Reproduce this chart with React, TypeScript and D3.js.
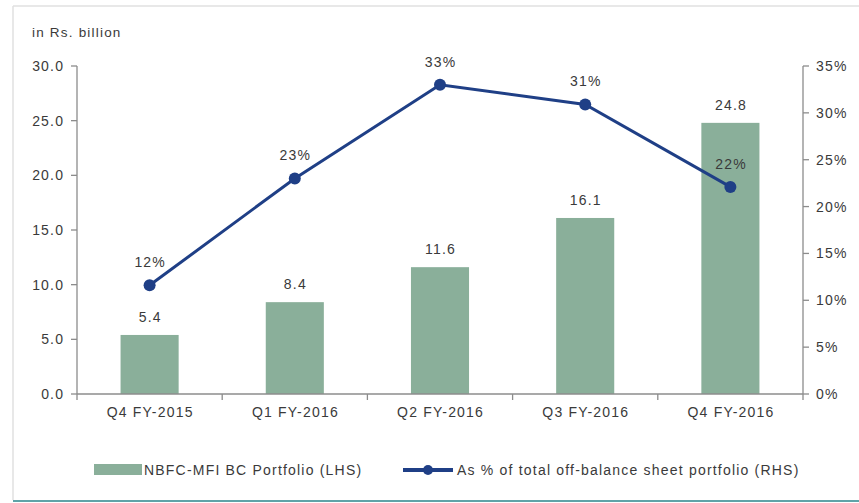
import React from "react";
import * as d3 from "d3";

const categories = ["Q4 FY-2015", "Q1 FY-2016", "Q2 FY-2016", "Q3 FY-2016", "Q4 FY-2016"];
const portfolio = [5.4, 8.4, 11.6, 16.1, 24.8];
const sharePct = [0.116, 0.23, 0.33, 0.309, 0.221];
const leftTicks = [0, 5, 10, 15, 20, 25, 30];
const rightTicks = [0, 0.05, 0.1, 0.15, 0.2, 0.25, 0.3, 0.35];

const W = 859;
const H = 503;
const left = 77;
const right = 803;
const top = 66;
const bottom = 394;
const BAR = "#8aaf9a";
const LINE = "#1f3f86";
const AXIS = "#8c8c8c";
const TEXT = "#3a3a3a";
const FONT = "'Liberation Sans', Arial, sans-serif";
const FS = 14;
const LS = 1.2;

export default function App() {
  const x = d3.scaleBand().domain(categories).range([left, right]).paddingInner(0.6).paddingOuter(0.3);
  const xb = d3.scaleBand().domain(categories).range([left, right]);
  const y = d3.scaleLinear().domain([0, 30]).range([bottom, top]);
  const y2 = d3.scaleLinear().domain([0, 0.35]).range([bottom, top]);
  const fmtL = d3.format(".1f");
  const fmtP = d3.format(".0%");
  const line = d3
    .line<number>()
    .x((_, i) => (xb(categories[i]) as number) + xb.bandwidth() / 2)
    .y((d) => y2(d));

  const tp = { fontSize: FS, fill: TEXT, letterSpacing: LS };

  return (
    <svg
      width={W}
      height={H}
      style={{ position: "absolute", left: 0, top: 0, background: "#fff" }}
      fontFamily={FONT}
    >
      <line x1={13} x2={W} y1={6} y2={6} stroke="#e0e0e0" strokeWidth={1.5} />
      <line x1={13} x2={13} y1={6} y2={500} stroke="#e0e0e0" strokeWidth={1.5} />
      <line x1={13} x2={W} y1={501} y2={501} stroke="#5fa3a8" strokeWidth={2} />

      <text x={32} y={37} {...tp} fontSize={13.5}>in Rs. billion</text>

      {/* bars */}
      {portfolio.map((v, i) => (
        <rect
          key={i}
          x={x(categories[i])}
          y={y(v)}
          width={x.bandwidth()}
          height={bottom - y(v)}
          fill={BAR}
        />
      ))}
      {portfolio.map((v, i) => (
        <text
          key={"bl" + i}
          x={(x(categories[i]) as number) + x.bandwidth() / 2 + LS / 2}
          y={y(v) - 13}
          textAnchor="middle"
          {...tp}
        >
          {fmtL(v)}
        </text>
      ))}

      {/* left axis */}
      <line x1={left} x2={left} y1={top} y2={bottom} stroke={AXIS} strokeWidth={1.3} />
      {leftTicks.map((t) => (
        <g key={"l" + t}>
          <line x1={left - 6} x2={left} y1={y(t)} y2={y(t)} stroke={AXIS} strokeWidth={1.3} />
          <text x={left - 14 + LS} y={y(t) + 5} textAnchor="end" {...tp}>
            {fmtL(t)}
          </text>
        </g>
      ))}

      {/* right axis */}
      <line x1={right} x2={right} y1={top} y2={bottom} stroke={AXIS} strokeWidth={1.3} />
      {rightTicks.map((t) => (
        <g key={"r" + t}>
          <line x1={right} x2={right + 6} y1={y2(t)} y2={y2(t)} stroke={AXIS} strokeWidth={1.3} />
          <text x={right + 13} y={y2(t) + 5} textAnchor="start" {...tp}>
            {fmtP(t)}
          </text>
        </g>
      ))}

      {/* x axis */}
      <line x1={left} x2={right} y1={bottom} y2={bottom} stroke={AXIS} strokeWidth={1.3} />
      {categories.map((c, i) => (
        <g key={"x" + i}>
          <line
            x1={xb(c) as number}
            x2={xb(c) as number}
            y1={bottom}
            y2={bottom + 6}
            stroke={AXIS}
            strokeWidth={1.3}
          />
          <text
            x={(xb(c) as number) + xb.bandwidth() / 2 + LS / 2}
            y={bottom + 23}
            textAnchor="middle"
            {...tp}
          >
            {c}
          </text>
        </g>
      ))}
      <line x1={right} x2={right} y1={bottom} y2={bottom + 6} stroke={AXIS} strokeWidth={1.3} />

      {/* line series */}
      <path d={line(sharePct) as string} fill="none" stroke={LINE} strokeWidth={3} />
      {sharePct.map((v, i) => (
        <circle
          key={"c" + i}
          cx={(xb(categories[i]) as number) + xb.bandwidth() / 2}
          cy={y2(v)}
          r={6}
          fill={LINE}
        />
      ))}
      {sharePct.map((v, i) => (
        <text
          key={"pl" + i}
          x={(xb(categories[i]) as number) + xb.bandwidth() / 2 + LS / 2}
          y={y2(v) - 18}
          textAnchor="middle"
          {...tp}
        >
          {fmtP(v)}
        </text>
      ))}

      {/* legend */}
      <rect x={94} y={464} width={48} height={11} fill={BAR} />
      <text x={144} y={475} {...tp}>NBFC-MFI BC Portfolio (LHS)</text>
      <line x1={403} x2={453} y1={470} y2={470} stroke={LINE} strokeWidth={4} />
      <circle cx={428} cy={470} r={5} fill={LINE} />
      <text x={457} y={475} {...tp}>As % of total off-balance sheet portfolio (RHS)</text>
    </svg>
  );
}
